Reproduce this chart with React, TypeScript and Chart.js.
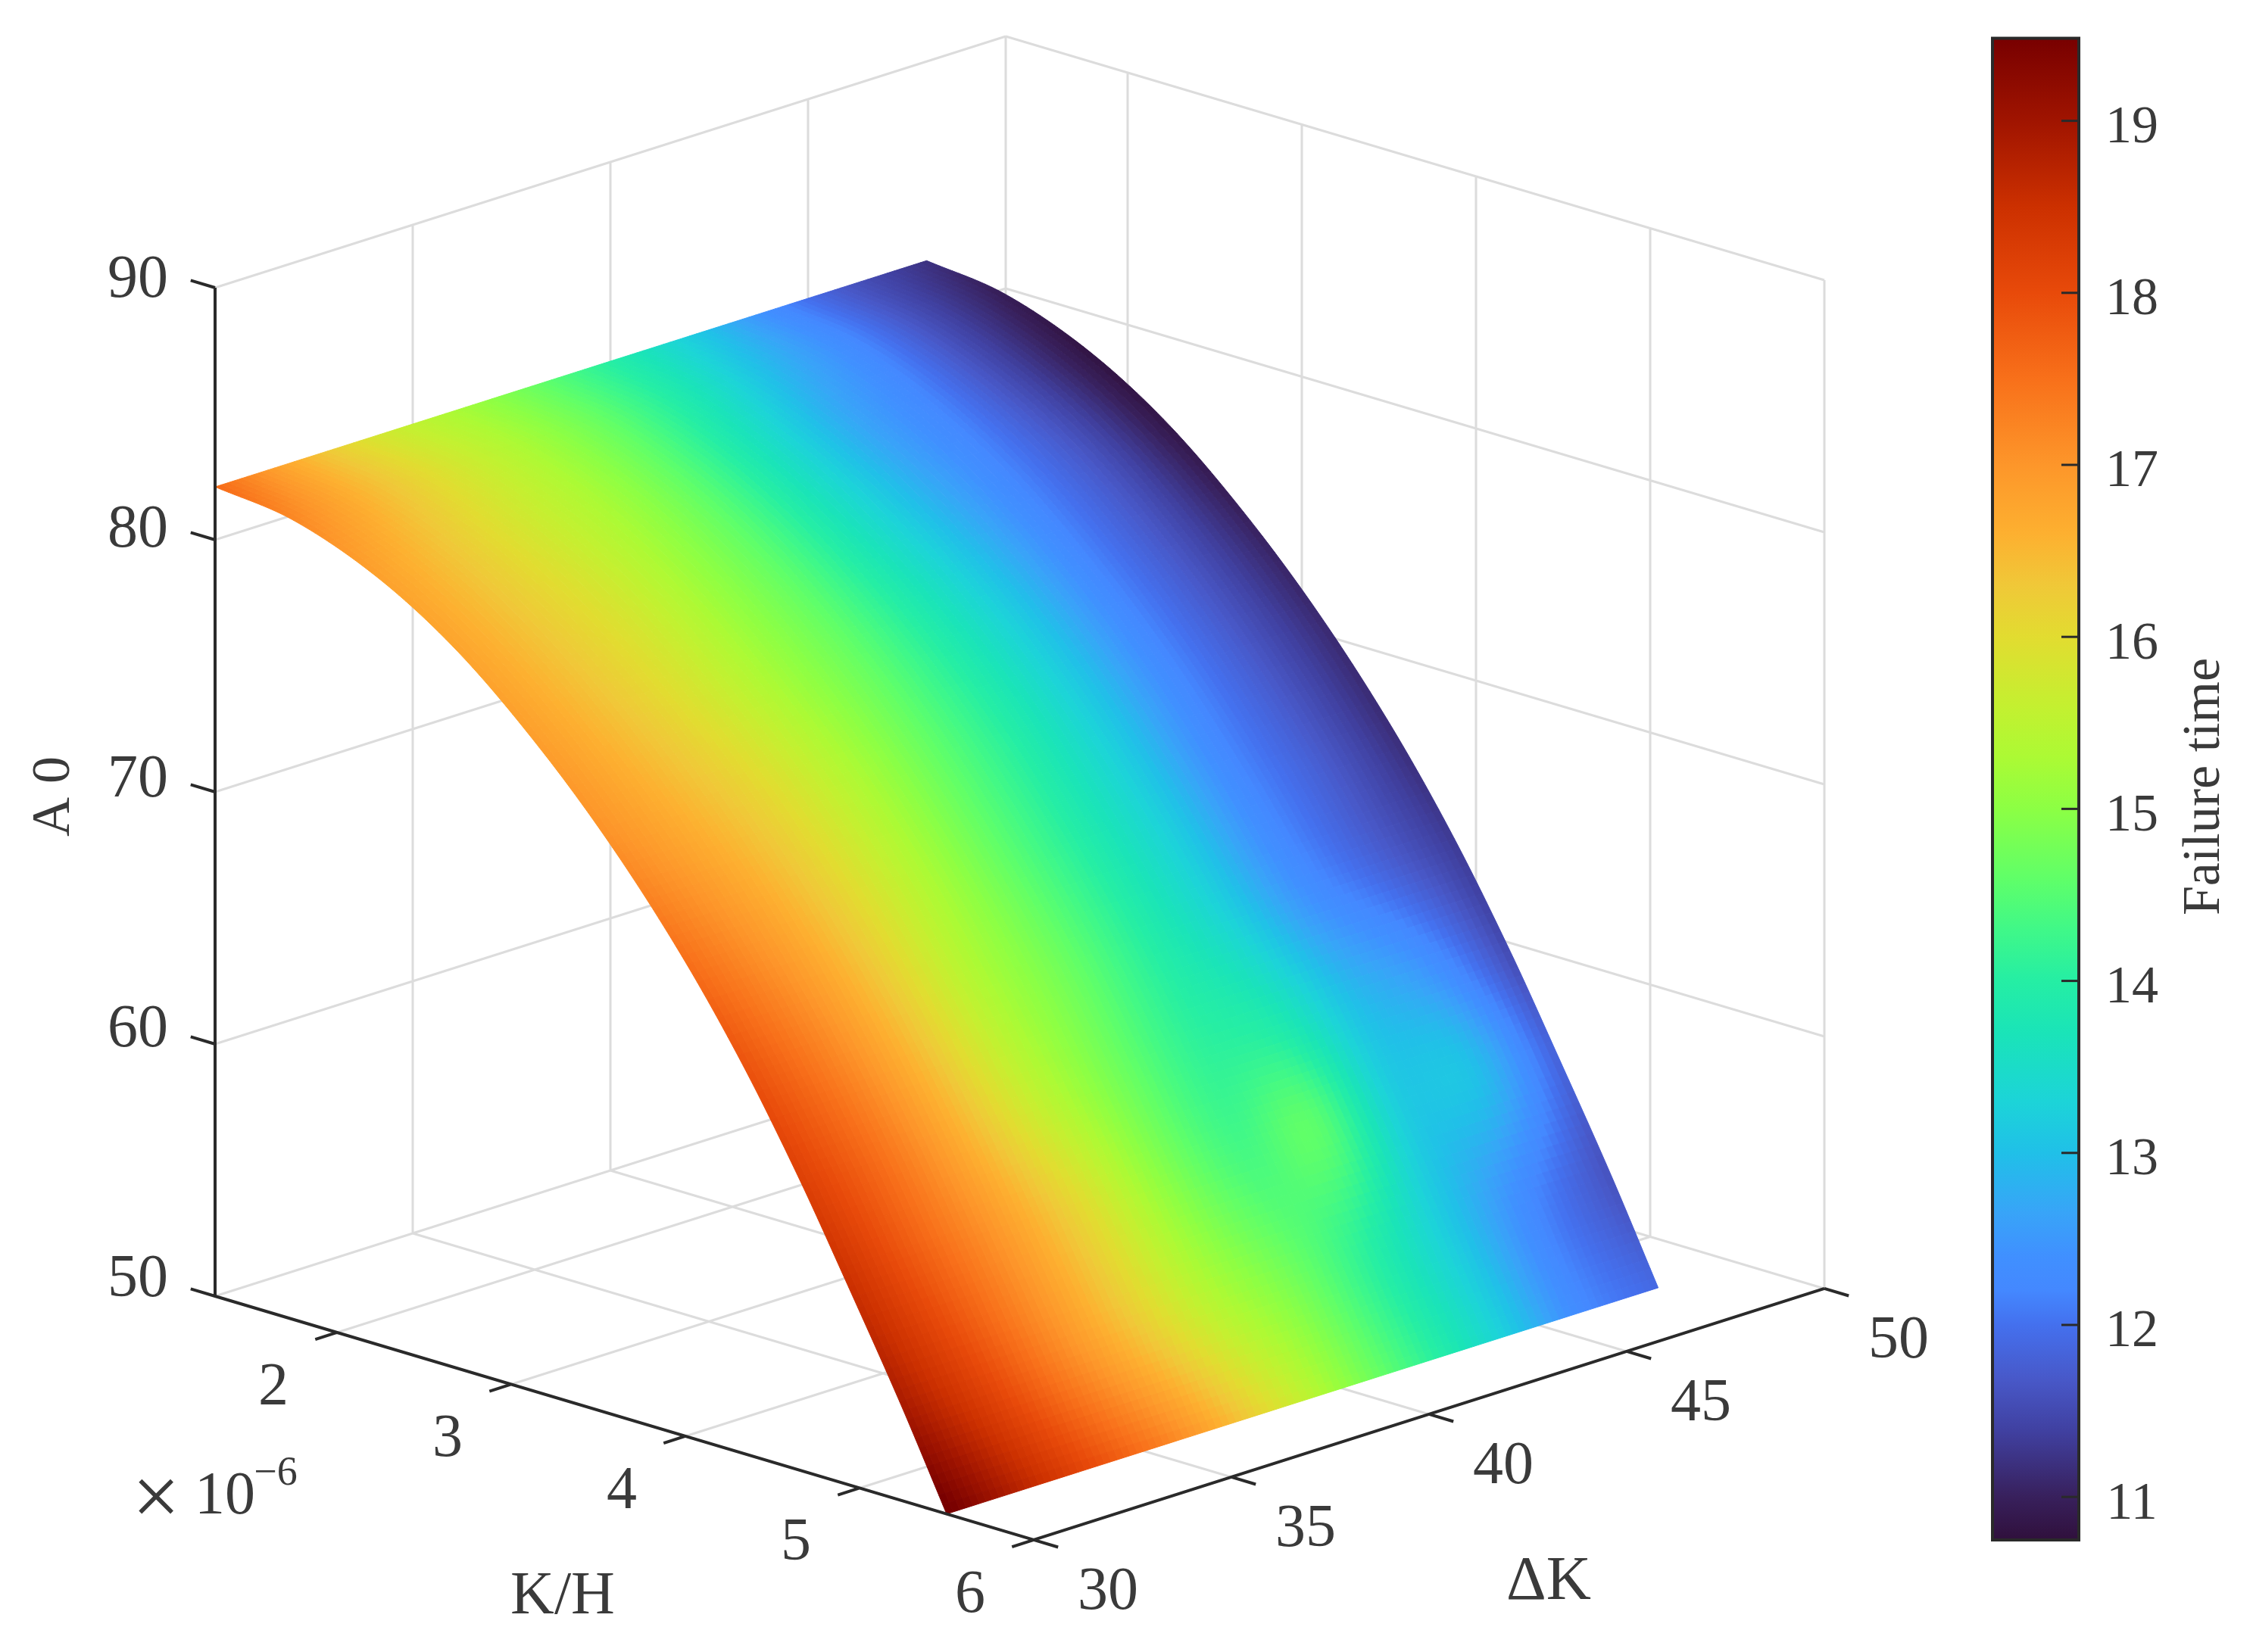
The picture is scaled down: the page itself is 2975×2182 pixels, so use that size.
import Chart from 'chart.js/auto'
import { useEffect, useRef } from 'react'

// surface rows (K/H, in 1e-6) and columns (delta K)
const khValues = [1.3, 1.75, 2.24, 2.7, 3.16, 3.58, 3.98, 4.33, 4.65, 4.91, 5.23, 5.5]
const dkValues = [30, 32, 34, 36, 38, 40, 42, 44, 46, 48]
const a0Values = [82.1, 81.7, 80.4, 78.4, 75.6, 72.5, 69, 65.4, 61.6, 58.2, 53.9, 50]

const failureTime = [
  [17.6, 16.65, 15.85, 15.3, 14.7, 14.0, 13.2, 12.35, 11.65, 11.2],
  [17.2, 16.5, 15.85, 15.25, 14.6, 13.8, 12.95, 12.3, 11.55, 10.95],
  [16.85, 16.3, 15.75, 15.2, 14.5, 13.6, 12.75, 12.2, 11.5, 10.8],
  [16.8, 16.3, 15.8, 15.15, 14.5, 13.65, 12.85, 12.2, 11.6, 10.85],
  [16.9, 16.4, 15.85, 15.2, 14.6, 13.85, 13.05, 12.25, 11.65, 11.0],
  [17.1, 16.6, 16.05, 15.35, 14.65, 13.95, 13.15, 12.3, 11.7, 11.1],
  [17.5, 16.9, 16.2, 15.4, 14.65, 13.95, 13.2, 12.3, 11.75, 11.15],
  [17.9, 17.2, 16.35, 15.4, 14.75, 14.05, 13.35, 12.45, 11.85, 11.3],
  [18.2, 17.5, 16.6, 15.6, 14.8, 14.15, 13.9, 13.0, 12.5, 11.5],
  [18.5, 17.7, 16.9, 16.0, 15.0, 14.35, 14.55, 13.2, 13.0, 11.8],
  [18.9, 18.1, 17.2, 16.3, 15.4, 14.75, 14.0, 13.1, 12.25, 11.6],
  [19.6, 18.7, 17.9, 17.1, 16.1, 15.1, 14.2, 13.3, 12.3, 11.9],
]

const khTicks = [2, 3, 4, 5, 6]
const dkTicks = [30, 35, 40, 45, 50]
const zTicks = [50, 60, 70, 80, 90]
const cbTicks = [11, 12, 13, 14, 15, 16, 17, 18, 19]

const KH_MIN = 1.3
const CB_MIN = 10.75
const CB_MAX = 19.48

const cmapValues = [10.75, 11, 11.38, 11.68, 12, 12.2, 12.4, 12.65, 13, 13.3, 13.7, 14, 14.3, 14.6, 15, 15.3, 15.6, 16, 16.3, 16.6, 17, 17.5, 18, 18.5, 19, 19.48]
const cmapColors = ['#30103c', '#38205c', '#4040a0', '#4858c8', '#4470ee', '#4488ff', '#4090ff', '#38a4f8', '#20c0e8', '#1cd4d8', '#1ae4b8', '#25eea4', '#40f888', '#60ff68', '#8cff44', '#acfa34', '#c4f030', '#e2dc30', '#f0c838', '#fdb030', '#fd962a', '#f8701a', '#e84a0a', '#cc3000', '#a01400', '#780000']

const hexToRgb = (hex: string) => [1, 3, 5].map((i) => parseInt(hex.slice(i, i + 2), 16))
const cmapRgb = cmapColors.map(hexToRgb)

const colorFor = (value: number) => {
  const v = Math.max(CB_MIN, Math.min(CB_MAX, value))
  let i = 0
  while (i < cmapValues.length - 2 && v > cmapValues[i + 1]) i++
  const t = (v - cmapValues[i]) / (cmapValues[i + 1] - cmapValues[i])
  const c = cmapRgb[i].map((a, k) => Math.round(a + (cmapRgb[i + 1][k] - a) * t))
  return `rgb(${c[0]},${c[1]},${c[2]})`
}

// view of the 3D box on the flat page scales
const project = (kh: number, dk: number, z: number) => {
  const u = kh - KH_MIN
  const v = dk - 30
  return {
    x: 284 + 230 * u + 52.2 * v,
    y: 1712 + 68.5 * u - 16.6 * v - 33.3 * (z - 50),
  }
}

const gap = { x: null, y: null }

const gridPoints = () => {
  const pts: any[] = []
  const seg = (a: any, b: any) => pts.push(a, b, gap)
  for (const k of khTicks) {
    seg(project(k, 30, 50), project(k, 50, 50))
    seg(project(k, 50, 50), project(k, 50, 90))
  }
  for (const d of dkTicks) {
    seg(project(KH_MIN, d, 50), project(6, d, 50))
    seg(project(KH_MIN, d, 50), project(KH_MIN, d, 90))
  }
  for (const z of zTicks) {
    seg(project(KH_MIN, 30, z), project(KH_MIN, 50, z))
    seg(project(KH_MIN, 50, z), project(6, 50, z))
  }
  return pts
}

const axisPoints = () => {
  const pts: any[] = []
  const seg = (a: any, b: any) => pts.push(a, b, gap)
  seg(project(KH_MIN, 30, 50), project(6, 30, 50))
  seg(project(6, 30, 50), project(6, 50, 50))
  seg(project(KH_MIN, 30, 50), project(KH_MIN, 30, 90))
  for (const k of khTicks) seg(project(k, 30, 50), project(k, 29.45, 50))
  for (const d of dkTicks) seg(project(6, d, 50), project(6.14, d, 50))
  for (const z of zTicks) seg(project(KH_MIN, 30, z), project(KH_MIN - 0.14, 30, z))
  return pts
}

const lerp = (a: number, b: number, t: number) => a + (b - a) * t

// smooth shading between the read grid values, like shading interp
const hermite = (xs: number[], ys: number[], i: number, t: number) => {
  const n = xs.length - 1
  const slope = (k: number) => {
    const a = Math.max(0, k - 1)
    const b = Math.min(n, k + 1)
    return (ys[b] - ys[a]) / (xs[b] - xs[a])
  }
  const h = xs[i + 1] - xs[i]
  const m0 = slope(i) * h
  const m1 = slope(i + 1) * h
  const t2 = t * t
  const t3 = t2 * t
  return (2 * t3 - 3 * t2 + 1) * ys[i] + (t3 - 2 * t2 + t) * m0 + (-2 * t3 + 3 * t2) * ys[i + 1] + (t3 - t2) * m1
}

const surfacePlugin = {
  id: 'surface',
  afterDatasetDraw(chart: any, args: any) {
    if (chart.data.datasets[args.index].label !== 'grid') return
    const { ctx, scales } = chart
    const SUB = 12
    ctx.save()
    ctx.lineWidth = 1
    for (let r = 0; r < khValues.length - 1; r++) {
      for (let c = 0; c < dkValues.length - 1; c++) {
        const corner = (tr: number, tc: number) => {
          const p = project(lerp(khValues[r], khValues[r + 1], tr), lerp(dkValues[c], dkValues[c + 1], tc), hermite(khValues, a0Values, r, tr))
          return [scales.x.getPixelForValue(p.x), scales.y.getPixelForValue(p.y)]
        }
        for (let i = 0; i < SUB; i++) {
          for (let j = 0; j < SUB; j++) {
            const tr = (i + 0.5) / SUB
            const tc = (j + 0.5) / SUB
            const column = failureTime.map((row) => hermite(dkValues, row, c, tc))
            const col = colorFor(hermite(khValues, column, r, tr))
            const quad = [corner(i / SUB, j / SUB), corner(i / SUB, (j + 1) / SUB), corner((i + 1) / SUB, (j + 1) / SUB), corner((i + 1) / SUB, j / SUB)]
            ctx.beginPath()
            quad.forEach((q, n) => (n ? ctx.lineTo(q[0], q[1]) : ctx.moveTo(q[0], q[1])))
            ctx.closePath()
            ctx.fillStyle = col
            ctx.strokeStyle = col
            ctx.fill()
            ctx.stroke()
          }
        }
      }
    }
    ctx.restore()
  },
}

const TEXT_COLOR = '#3a3a3a'
const SERIF = '"Liberation Serif"'

const labelsPlugin = {
  id: 'labels',
  afterDraw(chart: any) {
    const { ctx, scales } = chart
    const px = (x: number) => scales.x.getPixelForValue(x)
    const py = (y: number) => scales.y.getPixelForValue(y)
    const text = (s: string, x: number, y: number, size: number, rot = 0) => {
      ctx.save()
      ctx.translate(px(x), py(y))
      ctx.rotate(rot)
      ctx.font = `${size}px ${SERIF}`
      ctx.fillStyle = TEXT_COLOR
      ctx.textAlign = 'center'
      ctx.textBaseline = 'middle'
      ctx.fillText(s, 0, 0)
      ctx.restore()
    }

    khTicks.forEach((k) => {
      const p = project(k, 30, 50)
      text(String(k), p.x - 84, p.y + 74, 80)
    })
    dkTicks.forEach((d) => {
      const p = project(6, d, 50)
      text(String(d), p.x + 98, p.y + 70, 80)
    })
    zTicks.forEach((z) => {
      const p = project(KH_MIN, 30, z)
      text(String(z), 182, p.y - 21 + (z - 50) * 0.3, 80)
    })
    text('K/H', 743, 2110, 80)
    text('ΔK', 2045, 2090, 82)
    text('A 0', 72, 1052, 72, -Math.PI / 2)
    text('×', 206, 1985, 112)
    text('10', 297, 1978, 80)
    text('−6', 364, 1947, 54)

    // colour bar
    const cbX0 = px(2631)
    const cbX1 = px(2745)
    const cbY = (v: number) => py(2034 - (v - CB_MIN) * 227.2)
    const grad = ctx.createLinearGradient(0, cbY(CB_MIN), 0, cbY(CB_MAX))
    cmapValues.forEach((v, i) => grad.addColorStop((v - CB_MIN) / (CB_MAX - CB_MIN), cmapColors[i]))
    ctx.fillStyle = grad
    ctx.fillRect(cbX0, cbY(CB_MAX), cbX1 - cbX0, cbY(CB_MIN) - cbY(CB_MAX))
    ctx.strokeStyle = '#2a2a2a'
    ctx.lineWidth = 4
    ctx.strokeRect(cbX0, cbY(CB_MAX), cbX1 - cbX0, cbY(CB_MIN) - cbY(CB_MAX))
    ctx.lineWidth = 3
    cbTicks.forEach((v) => {
      ctx.beginPath()
      ctx.moveTo(cbX1, cbY(v))
      ctx.lineTo(cbX1 - 23, cbY(v))
      ctx.stroke()
      text(String(v), 2815, scales.y.getValueForPixel(cbY(v)) + 10, 70)
    })
    text('Failure time', 2912, 1039, 70, -Math.PI / 2)
  },
}

export default function App() {
  const canvas = useRef<HTMLCanvasElement | null>(null)

  useEffect(() => {
    if (!canvas.current) return

    const chart = new Chart(canvas.current, {
      type: 'scatter',
      data: {
        datasets: [
          { label: 'grid', data: gridPoints(), showLine: true, pointRadius: 0, borderColor: '#dcdcdc', borderWidth: 3, order: 2 },
          { label: 'axes', data: axisPoints(), showLine: true, pointRadius: 0, borderColor: '#2a2a2a', borderWidth: 4, order: 1 },
        ],
      } as any,
      options: {
        responsive: false,
        animation: false,
        devicePixelRatio: 1,
        layout: { padding: 0 },
        scales: {
          x: { type: 'linear', min: 0, max: 2975, display: false },
          y: { type: 'linear', min: 0, max: 2182, reverse: true, display: false },
        },
        plugins: { legend: { display: false }, tooltip: { enabled: false } },
      },
      plugins: [surfacePlugin, labelsPlugin],
    } as any)

    return () => {
      chart.destroy()
    }
  }, [])

  return (
    <div style={{ position: 'absolute', left: 0, top: 0, width: 2975, height: 2182, background: '#fff' }}>
      <canvas ref={canvas} width={2975} height={2182} style={{ display: 'block' }} />
    </div>
  )
}
